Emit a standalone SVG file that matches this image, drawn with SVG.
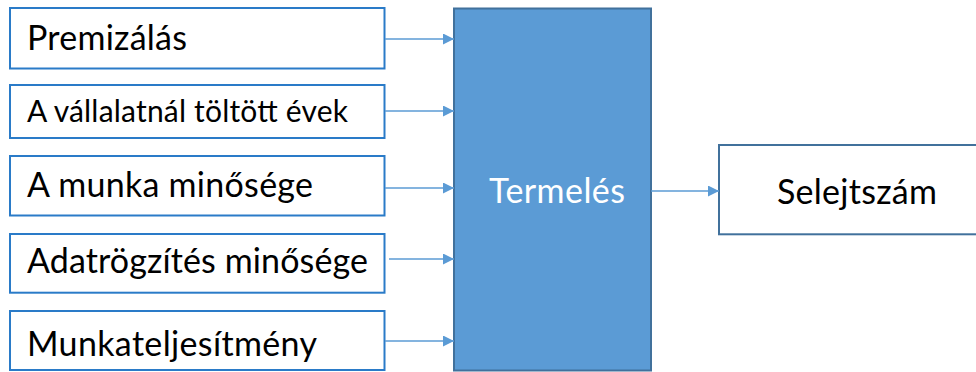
<svg xmlns="http://www.w3.org/2000/svg" width="976" height="372" viewBox="0 0 976 372">
  <style>
    .factor { fill: #ffffff; stroke: #2a7bc8; stroke-width: 2; }
    .label { font-family: Lato, "Open Sans", "Liberation Sans", sans-serif; font-size: 34px; fill: #000000; }
    .small { font-size: 30px; }
    .process { fill: #5b9bd5; stroke: #41719c; stroke-width: 2; }
    .result { fill: #ffffff; stroke: #41719c; stroke-width: 2; }
    .link { stroke: #5b9bd5; stroke-width: 1.5; fill: none; marker-end: url(#head); }
  </style>
  <defs>
    <marker id="head" markerUnits="userSpaceOnUse" markerWidth="11" markerHeight="11" refX="11" refY="5.5" orient="auto">
      <path d="M0,0 L11,5.5 L0,11 Z" fill="#5b9bd5"/>
    </marker>
  </defs>
  <rect width="976" height="372" fill="#ffffff"/>

  <g id="premizalas">
    <rect class="factor" x="10" y="8" width="374.5" height="60.5"/>
    <text class="label" x="27" y="50" textLength="160">Premizálás</text>
  </g>
  <g id="vallalatnal-toltott-evek">
    <rect class="factor" x="10" y="85" width="374.5" height="53"/>
    <text class="label small" x="27" y="122" textLength="321">A vállalatnál töltött évek</text>
  </g>
  <g id="munka-minosege">
    <rect class="factor" x="10" y="156" width="374.5" height="59.5"/>
    <text class="label" x="27" y="197" textLength="286">A munka minősége</text>
  </g>
  <g id="adatrogzites-minosege">
    <rect class="factor" x="10" y="234" width="374.5" height="58.7"/>
    <text class="label" x="27" y="273" textLength="341">Adatrögzítés minősége</text>
  </g>
  <g id="munkateljesitmeny">
    <rect class="factor" x="10" y="311" width="374.5" height="59"/>
    <text class="label" x="27" y="356" textLength="290">Munkateljesítmény</text>
  </g>

  <g id="termeles">
    <rect class="process" x="454" y="8.5" width="197" height="362"/>
    <text class="label" x="489" y="203" textLength="136" fill="#ffffff" style="fill:#ffffff">Termelés</text>
  </g>
  <g id="selejtszam">
    <rect class="result" x="719" y="145" width="262" height="89.3"/>
    <text class="label" x="777" y="204" textLength="160">Selejtszám</text>
  </g>

  <g id="connectors">
    <line class="link" x1="385" y1="39" x2="454" y2="39"/>
    <line class="link" x1="385" y1="111" x2="454" y2="111"/>
    <line class="link" x1="385" y1="188" x2="454" y2="188"/>
    <line class="link" x1="389" y1="259" x2="454" y2="259"/>
    <line class="link" x1="385" y1="341" x2="454" y2="341"/>
    <line class="link" x1="651" y1="191" x2="719" y2="191"/>
  </g>
</svg>
